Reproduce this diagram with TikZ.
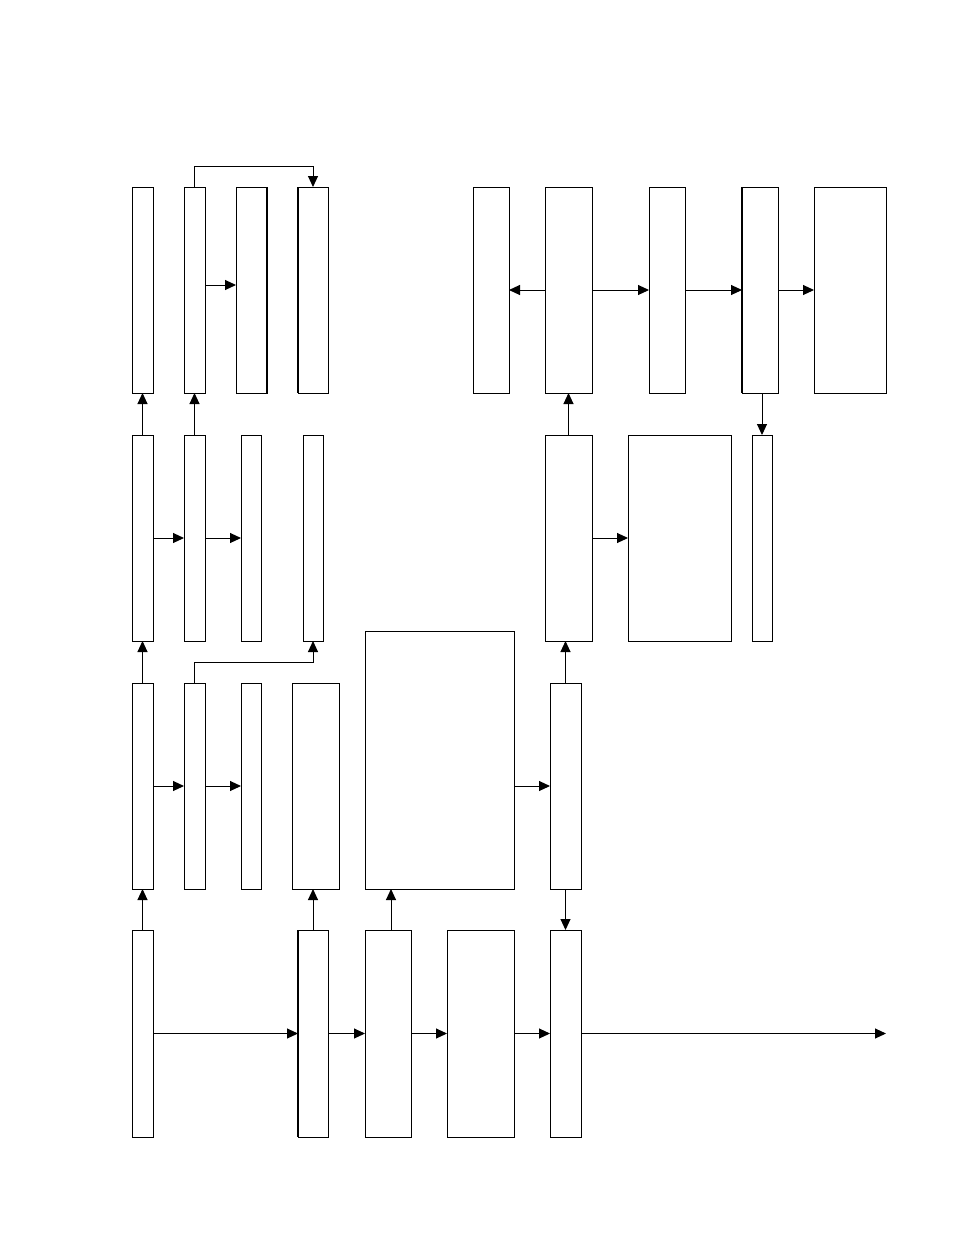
\documentclass[tikz,border=0pt]{standalone}
\usetikzlibrary{arrows.meta,calc}
\tikzset{
  blk/.style={draw=black, line width=1pt, fill=white, inner sep=0pt, outer sep=0pt},
  conn/.style={line width=1pt, -{Triangle[length=11pt,width=10pt]}},
  thk/.style={line width=2pt}
}
% \bx{name}{left}{top}{right}{bottom}
\newcommand{\bx}[5]{%
  \node[blk, minimum width={(#4-#2)*1pt}, minimum height={(#5-#3)*1pt}] (#1) at ({(#2+#4)/2},{(#3+#5)/2}) {};}
\begin{document}
\begin{tikzpicture}[x=1pt,y=-1pt]
\useasboundingbox (0,0) rectangle (954,1235);
\fill[white] (0,0) rectangle (954,1235);
% row 1
\bx{A1}{132}{187}{153}{393}
\bx{A2}{184}{187}{205}{393}
\bx{A3}{236}{187}{267}{393}
\bx{A4}{298}{187}{328}{393}
\bx{B1}{473}{187}{509}{393}
\bx{B2}{545}{187}{592}{393}
\bx{B3}{649}{187}{685}{393}
\bx{B4}{742}{187}{778}{393}
\bx{B5}{814}{187}{886}{393}
% row 2
\bx{C1}{132}{435}{153}{641}
\bx{C2}{184}{435}{205}{641}
\bx{C3}{241}{435}{261}{641}
\bx{C4}{303}{435}{323}{641}
\bx{D1}{545}{435}{592}{641}
\bx{D2}{628}{435}{731}{641}
\bx{D3}{752}{435}{772}{641}
% row 3
\bx{F1}{132}{683}{153}{889}
\bx{F2}{184}{683}{205}{889}
\bx{F3}{241}{683}{261}{889}
\bx{F4}{292}{683}{339}{889}
\bx{G}{365}{631}{514}{889}
\bx{F5}{550}{683}{581}{889}
% row 4
\bx{E1}{132}{930}{153}{1137}
\bx{E2}{298}{930}{328}{1137}
\bx{E3}{365}{930}{411}{1137}
\bx{E4}{447}{930}{514}{1137}
\bx{E5}{550}{930}{581}{1137}
\coordinate (OUT) at (886,1033.5);
% thicker sides
\draw[thk] (A3.north east) -- (A3.south east);
\draw[thk] (A4.north west) -- (A4.south west);
\draw[thk] (B4.north west) -- (B4.south west);
\draw[thk] (E2.north west) -- (E2.south west);
% connectors, row 1
\draw[conn] (A2.north) -- ++(0,-21) -| (A4.north);
\draw[conn] ([yshift=5pt]A2.east) -- ([yshift=5pt]A3.west);
\draw[conn] (B2.west) -- (B1.east);
\draw[conn] (B2.east) -- (B3.west);
\draw[conn] (B3.east) -- (B4.west);
\draw[conn] (B4.east) -- (B5.west);
\draw[conn] (B4.south -| D3.north) -- (D3.north);
% row 2
\draw[conn] (C1.north) -- (A1.south);
\draw[conn] (C2.north) -- (A2.south);
\draw[conn] (C1.east) -- (C2.west);
\draw[conn] (C2.east) -- (C3.west);
\draw[conn] (D1.north) -- (B2.south);
\draw[conn] (D1.east) -- (D2.west);
% row 3
\draw[conn] (F1.north) -- (C1.south);
\draw[conn] (F2.north) -- ++(0,-21) -| (C4.south);
\draw[conn] (F1.east) -- (F2.west);
\draw[conn] (F2.east) -- (F3.west);
\draw[conn] (G.east |- F5.west) -- (F5.west);
\draw[conn] (F5.north) -- (F5.north |- D1.south);
% row 4
\draw[conn] (E1.north) -- (F1.south);
\draw[conn] (E2.north) -- (E2.north |- F4.south);
\draw[conn] ([xshift=3pt]E3.north) -- ([xshift=3pt]E3.north |- G.south);
\draw[conn] (F5.south) -- (E5.north);
\draw[conn] (E1.east) -- (E2.west);
\draw[conn] (E2.east) -- (E3.west);
\draw[conn] (E3.east) -- (E4.west);
\draw[conn] (E4.east) -- (E5.west);
\draw[conn] (E5.east) -- (E5.east -| OUT);
\end{tikzpicture}
\end{document}
